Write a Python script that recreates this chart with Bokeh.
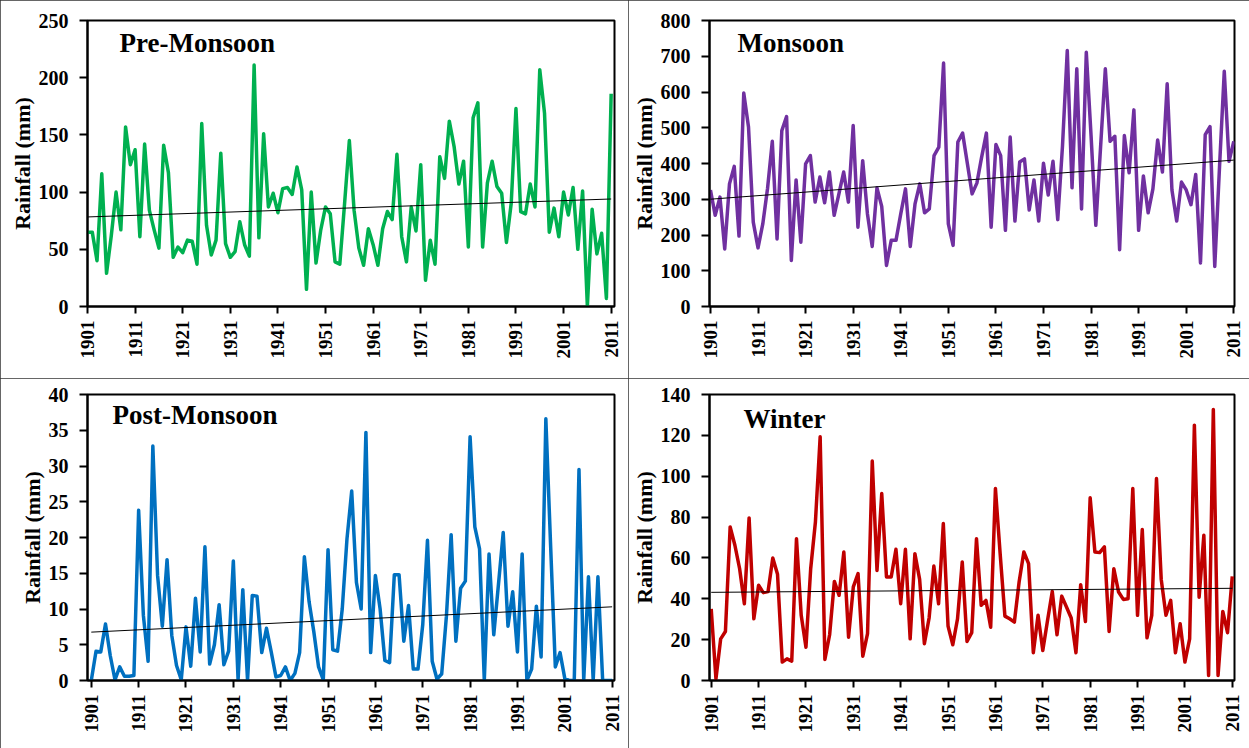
import numpy as np
from bokeh.plotting import figure
from bokeh.layouts import gridplot
from bokeh.models import Range1d, FixedTicker, Label
from bokeh.embed import file_html
from bokeh.resources import INLINE

years = list(range(1901, 2012))
year_ticks = list(range(1901, 2012, 10))

pre_monsoon = [65, 65, 40, 116, 29, 62, 100, 67, 157, 124, 137, 61, 142, 84, 67, 51, 141, 117, 43, 52,
               47, 58, 57, 37, 160, 71, 45, 58, 134, 55, 43, 48, 74, 54, 44, 211, 60, 151, 87, 99,
               82, 103, 104, 98, 122, 102, 15, 100, 38, 67, 87, 81, 39, 37, 90,
               145, 84, 51, 36, 68, 54, 36, 68, 83, 76, 133, 61, 39, 87, 66, 124, 23, 58, 37, 131,
               112, 162, 140, 107, 127, 52, 165, 178, 52, 108, 127, 105, 99, 56, 90, 173, 83, 81, 107, 87,
               207, 169, 65, 86, 61, 100, 80, 104, 50, 101, 0, 85, 46, 64, 7, 186]

monsoon = [326, 255, 306, 161, 343, 392, 197, 597, 502, 236,
           164, 231, 330, 462, 189, 492, 531, 129, 354, 180,
           399, 422, 292, 362, 290, 376, 255, 315, 376, 292,
           506, 222, 408, 259, 168, 332, 280, 115, 185, 185,
           259, 329, 168, 287, 343, 262, 273, 422, 446, 681,
           231, 171, 460, 485, 400, 315, 345, 418, 485, 222,
           453, 422, 213, 474, 239, 404, 413, 270, 354, 239,
           401, 312, 406, 243, 450, 716, 332, 665, 273, 711,
           478, 227, 446, 665, 462, 476, 159, 478, 374, 550,
           213, 365, 262, 329, 466, 376, 623, 326, 239, 348,
           326, 285, 369, 122, 481, 503, 112, 390, 658, 406,
           462]

post_monsoon = [0, 4.1, 4.0, 7.9, 3.5, 0.1, 1.9, 0.6, 0.6, 0.7,
                23.8, 9.1, 2.7, 32.8, 14.7, 7.6, 16.9, 6.3, 2.1, 0.1,
                7.5, 2.0, 11.5, 4.0, 18.7, 2.3, 5.0, 10.6, 2.2, 4.1,
                16.7, 0.1, 12.7, 0, 11.9, 11.8, 3.9, 7.3, 4.0, 0.5,
                0.7, 1.9, 0, 1.0, 3.9, 17.3, 11.0, 6.8, 1.9, 0.1,
                18.3, 4.3, 4.1, 10.0, 19.8, 26.5, 13.7, 10.0, 34.7, 3.9,
                14.7, 10.0, 2.8, 2.5, 14.8, 14.8, 5.5, 10.5, 1.6, 1.6,
                7.8, 19.6, 2.7, 0.2, 0.9, 9.0, 20.4, 5.5, 12.9, 13.9,
                34.1, 21.5, 18.4, 0, 17.7, 6.4, 13.5, 20.7, 7.6, 12.4,
                4.0, 17.7, 0, 1.6, 10.4, 3.3, 36.6, 19.0, 1.9, 3.9,
                0.3, 0, 0, 29.5, 0, 14.5, 0, 14.5, 0, 0,
                0]

winter = [35.1, 0.8, 20.4, 24.0, 75.2, 66.2, 54.7, 37.6, 79.6, 30.2,
          46.6, 43.0, 43.6, 60.0, 52.0, 9.0, 10.6, 9.5, 69.4, 31.9,
          16.3, 54.7, 77.6, 119.3, 10.3, 22.4, 48.5, 41.7, 62.9, 21.2,
          45.8, 52.3, 11.9, 22.9, 107.4, 53.9, 91.5, 50.7, 50.7, 64.2,
          37.6, 64.2, 20.4, 62.1, 49.5, 18.0, 30.6, 56.0, 37.6, 76.8,
          26.6, 17.5, 30.2, 58.0, 19.1, 23.4, 69.4, 36.8, 39.2, 26.1,
          94.0, 62.0, 31.5, 30.2, 28.6, 48.2, 62.9, 57.2, 13.6, 31.9,
          14.7, 29.4, 43.6, 22.4, 41.3, 36.0, 30.6, 13.6, 46.9, 28.9,
          89.4, 62.9, 62.6, 65.4, 24.0, 54.7, 43.3, 39.7, 40.0, 94.0,
          31.9, 73.9, 20.9, 31.9, 98.9, 49.5, 31.9, 39.2, 13.6, 27.8,
          9.0, 20.4, 125.0, 40.8, 71.1, 2.5, 132.7, 2.5, 33.8, 23.4,
          51.0]

FONT = "Liberation Serif"


def make_panel(title, values, color, ymax, ystep, width, height, borders, xr, title_pos):
    left, right, top, bottom = borders
    p = figure(width=width, height=height, output_backend="svg", toolbar_location=None,
               x_range=Range1d(*xr), y_range=Range1d(0, ymax),
               min_border_left=left, min_border_right=right,
               min_border_top=top, min_border_bottom=bottom)
    p.xgrid.visible = False
    p.ygrid.visible = False
    p.outline_line_color = "black"
    p.outline_line_width = 2
    p.outline_line_alpha = 1
    p.background_fill_color = "white"
    p.border_fill_color = "white"

    p.line(years, values, line_color=color, line_width=3.5, line_join="round")
    k, b = np.polyfit(years, values, 1)
    tx = [years[0], years[-1]]
    p.line(tx, [k * t + b for t in tx], line_color="black", line_width=1)

    xa = p.xaxis[0]
    xa.ticker = FixedTicker(ticks=year_ticks)
    xa.major_label_orientation = np.pi / 2
    xa.major_label_text_font = FONT
    xa.major_label_text_font_style = "bold"
    xa.major_label_text_font_size = "19px"
    xa.major_label_text_color = "black"
    xa.major_tick_out = 7
    xa.major_tick_in = 0
    xa.minor_tick_out = 0
    xa.minor_tick_in = 0
    xa.major_label_standoff = 7
    xa.axis_line_width = 2
    xa.major_tick_line_width = 2

    ya = p.yaxis[0]
    ya.ticker = FixedTicker(ticks=list(range(0, ymax + 1, ystep)))
    ya.major_label_text_font = FONT
    ya.major_label_text_font_style = "bold"
    ya.major_label_text_font_size = "20px"
    ya.major_label_text_color = "black"
    ya.major_tick_out = 8
    ya.major_tick_in = 0
    ya.minor_tick_out = 0
    ya.minor_tick_in = 0
    ya.major_label_standoff = 11
    ya.axis_line_width = 2
    ya.major_tick_line_width = 2
    ya.axis_label = "Rainfall (mm)"
    ya.axis_label_text_font = FONT
    ya.axis_label_text_font_style = "bold"
    ya.axis_label_text_font_size = "22px"
    ya.axis_label_text_color = "black"
    ya.axis_label_standoff = 1

    p.add_layout(Label(x=title_pos[0], y=title_pos[1], x_units="screen", y_units="screen",
                       text=title, text_font=FONT, text_font_style="bold",
                       text_font_size="27px", text_color="black"))
    p.styles = {"outline": "1px solid #333333", "outline-offset": "-1px"}
    return p


p1 = make_panel("Pre-Monsoon", pre_monsoon, "#00B050", 250, 50, 628, 378,
                (85, 13, 20, 72), (1901.0, 2011.7), (32, 249))
p2 = make_panel("Monsoon", monsoon, "#7030A0", 800, 100, 621, 378,
                (81, 15, 20, 72), (1900.8, 2011.15), (28, 249))
p3 = make_panel("Post-Monsoon", post_monsoon, "#0070C0", 40, 5, 628, 370,
                (87, 14, 16, 68), (1900.2, 2011.5), (25, 251))
p4 = make_panel("Winter", winter, "#C00000", 140, 20, 621, 370,
                (77, 15, 16, 68), (1900.64, 2011.47), (34, 247))

grid = gridplot([[p1, p2], [p3, p4]], toolbar_location=None)

open("out.html", "w").write(file_html(grid, INLINE))
